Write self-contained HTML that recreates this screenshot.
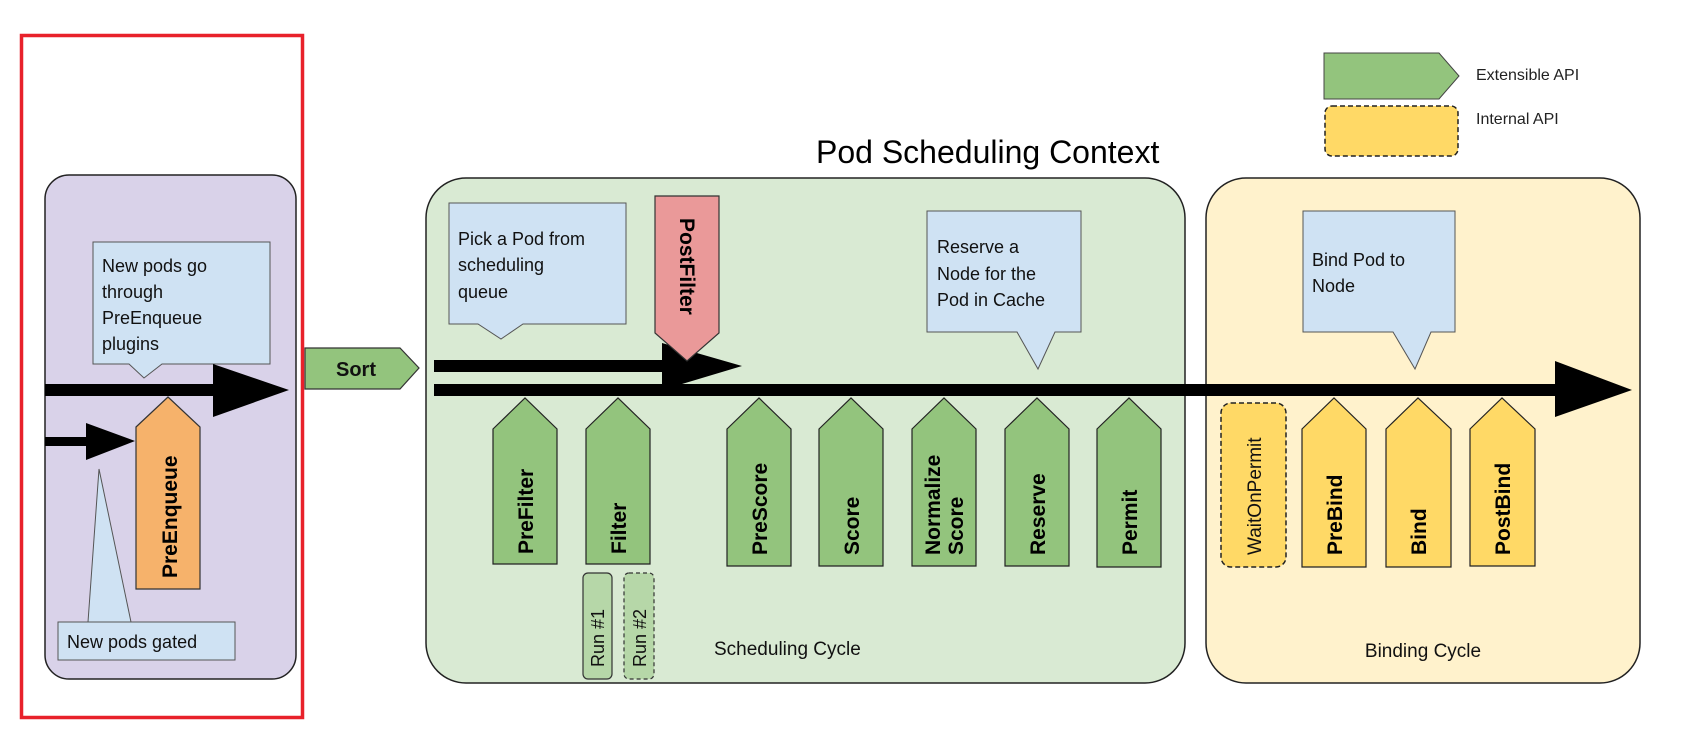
<!DOCTYPE html>
<html><head><meta charset="utf-8"><style>html,body{margin:0;padding:0;background:#fff}svg{display:block}</style></head>
<body>
<svg width="1691" height="736" viewBox="0 0 1691 736" xmlns="http://www.w3.org/2000/svg" font-family="Liberation Sans, Arial, sans-serif">
<rect x="21.5" y="35.5" width="281" height="682" fill="none" stroke="#e8212b" stroke-width="3.5"/>
<rect x="45" y="175" width="251" height="504" rx="24" fill="#d9d2e9" stroke="#222" stroke-width="1.5"/>
<rect x="426" y="178" width="759" height="505" rx="40" fill="#d9ead3" stroke="#222" stroke-width="1.5"/>
<rect x="1206" y="178" width="434" height="505" rx="40" fill="#fff2cc" stroke="#222" stroke-width="1.5"/>

<text x="816" y="163" font-size="32" fill="#000">Pod Scheduling Context</text>

<polygon points="1324,53 1439,53 1459,76 1439,99 1324,99" fill="#93c47d" stroke="#444" stroke-width="1"/>
<text x="1476" y="80" font-size="16" fill="#222">Extensible API</text>
<rect x="1325" y="106" width="133" height="50" rx="7" fill="#ffd966" stroke="#222" stroke-width="1.5" stroke-dasharray="5,3"/>
<text x="1476" y="124" font-size="16" fill="#222">Internal API</text>

<polygon points="93,242 270,242 270,364 162,364 144,378 129,364 93,364" fill="#cfe2f3" stroke="#555" stroke-width="1"/>
<text font-size="18" fill="#111"><tspan x="102" y="272">New pods go</tspan><tspan x="102" y="298">through</tspan><tspan x="102" y="324">PreEnqueue</tspan><tspan x="102" y="350">plugins</tspan></text>
<rect x="45" y="384" width="170" height="12" fill="#000"/>
<polygon points="213,364 289,390 213,417" fill="#000"/>
<rect x="45" y="437" width="45" height="9" fill="#000"/>
<polygon points="86,423 135,441 86,460" fill="#000"/>
<polygon points="136,427 168,397 200,427 200,589 136,589" fill="#f6b26b" stroke="#333" stroke-width="1.2"/>
<text transform="translate(177,578) rotate(-90)" font-size="21" font-weight="bold" fill="#000">PreEnqueue</text>
<polygon points="88,622 99,469 131,622" fill="#cfe2f3" stroke="#555" stroke-width="1"/>
<rect x="58" y="622" width="177" height="38" fill="#cfe2f3" stroke="#555" stroke-width="1"/>
<text x="67" y="648" font-size="18" fill="#111">New pods gated</text>

<polygon points="305,348 400,348 419,368 400,389 305,389" fill="#93c47d" stroke="#333" stroke-width="1.2"/>
<text x="336" y="376" font-size="20" font-weight="bold" fill="#111">Sort</text>

<polygon points="449,203 626,203 626,324 523,324 501,339 478,324 449,324" fill="#cfe2f3" stroke="#555" stroke-width="1"/>
<text font-size="18" fill="#111"><tspan x="458" y="245">Pick a Pod from</tspan><tspan x="458" y="271">scheduling</tspan><tspan x="458" y="298">queue</tspan></text>
<polygon points="927,211 1081,211 1081,332 1055,332 1038,369 1017,332 927,332" fill="#cfe2f3" stroke="#555" stroke-width="1"/>
<text font-size="18" fill="#111"><tspan x="937" y="253">Reserve a</tspan><tspan x="937" y="280">Node for the</tspan><tspan x="937" y="306">Pod in Cache</tspan></text>
<polygon points="1303,211 1455,211 1455,332 1431,332 1415,369 1393,332 1303,332" fill="#cfe2f3" stroke="#555" stroke-width="1"/>
<text font-size="18" fill="#111"><tspan x="1312" y="266">Bind Pod to</tspan><tspan x="1312" y="292">Node</tspan></text>

<rect x="434" y="360" width="232" height="12" fill="#000"/>
<polygon points="662,343 742,366 662,390" fill="#000"/>
<rect x="434" y="384" width="1125" height="12" fill="#000"/>
<polygon points="1555,361 1632,390 1555,417" fill="#000"/>

<polygon points="655,196 719,196 719,333 687,361 655,333" fill="#ea9999" stroke="#333" stroke-width="1.2"/>
<text transform="translate(680,218) rotate(90)" font-size="21" font-weight="bold" fill="#000">PostFilter</text>

<g fill="#93c47d" stroke="#222" stroke-width="1.2">
<polygon points="493,429 525,398 557,429 557,564 493,564"/>
<polygon points="586,429 618,398 650,429 650,564 586,564"/>
<polygon points="727,429 759,398 791,429 791,566 727,566"/>
<polygon points="819,429 851,398 883,429 883,566 819,566"/>
<polygon points="912,429 944,398 976,429 976,566 912,566"/>
<polygon points="1005,429 1037,398 1069,429 1069,566 1005,566"/>
<polygon points="1097,429 1129,398 1161,429 1161,567 1097,567"/>
</g>
<g font-size="21" font-weight="bold" fill="#000">
<text transform="translate(533,554) rotate(-90)">PreFilter</text>
<text transform="translate(626,554) rotate(-90)">Filter</text>
<text transform="translate(767,555) rotate(-90)">PreScore</text>
<text transform="translate(859,555) rotate(-90)">Score</text>
<text transform="translate(940,555) rotate(-90)">Normalize</text>
<text transform="translate(963,555) rotate(-90)">Score</text>
<text transform="translate(1045,555) rotate(-90)">Reserve</text>
<text transform="translate(1137,555) rotate(-90)">Permit</text>
</g>
<rect x="583" y="573" width="29" height="106" rx="5" fill="#b6d7a8" stroke="#333" stroke-width="1.2"/>
<rect x="624" y="573" width="30" height="106" rx="5" fill="#b6d7a8" stroke="#333" stroke-width="1.2" stroke-dasharray="4,3"/>
<text transform="translate(604,667) rotate(-90)" font-size="18" fill="#111">Run #1</text>
<text transform="translate(646,667) rotate(-90)" font-size="18" fill="#111">Run #2</text>
<text x="714" y="655" font-size="19" fill="#111">Scheduling Cycle</text>

<rect x="1221" y="403" width="65" height="164" rx="10" fill="#ffd966" stroke="#222" stroke-width="1.5" stroke-dasharray="5,3"/>
<text transform="translate(1261,555) rotate(-90)" font-size="19" fill="#111">WaitOnPermit</text>
<g fill="#ffd966" stroke="#222" stroke-width="1.2">
<polygon points="1302,429 1334,398 1366,429 1366,567 1302,567"/>
<polygon points="1386,429 1418,398 1451,429 1451,567 1386,567"/>
<polygon points="1470,429 1502,398 1535,429 1535,566 1470,566"/>
</g>
<g font-size="21" font-weight="bold" fill="#000">
<text transform="translate(1342,555) rotate(-90)">PreBind</text>
<text transform="translate(1426,555) rotate(-90)">Bind</text>
<text transform="translate(1510,555) rotate(-90)">PostBind</text>
</g>
<text x="1423" y="657" font-size="19" fill="#111" text-anchor="middle">Binding Cycle</text>
</svg>
</body></html>
